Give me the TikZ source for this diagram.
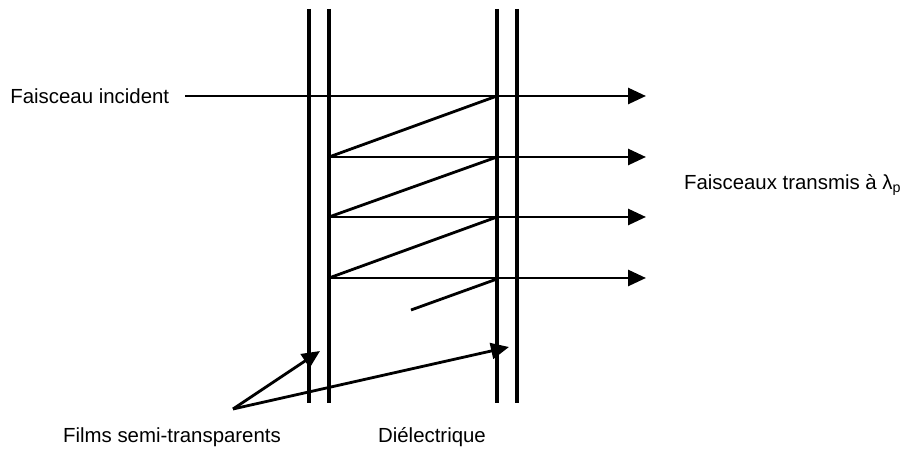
\documentclass[tikz,border=0pt]{standalone}
\usepackage{fontspec}
\setmainfont{Liberation Sans}
\usetikzlibrary{arrows.meta, positioning, calc}

\begin{document}
\begin{tikzpicture}[x=0.5pt, y=-0.5pt,
    film/.style={line width=1.6pt},
    ray/.style={line width=1.4pt},
    beam/.style={ray, -{Triangle[length=9pt, width=8pt]}},
    label/.style={font=\fontsize{10.2}{12}\selectfont, inner sep=0pt}]

    \useasboundingbox (0,0) rectangle (911,453);

    % ============================================================
    % FILMS (FOUR VERTICAL LINES)
    % ============================================================
    \coordinate (f1t) at (309,9);   \coordinate (f1b) at (309,403);
    \coordinate (f2t) at (329,9);   \coordinate (f2b) at (329,403);
    \coordinate (f3t) at (497,9);   \coordinate (f3b) at (497,403);
    \coordinate (f4t) at (517,9);   \coordinate (f4b) at (517,403);
    \draw[film] (f1t) -- (f1b);
    \draw[film] (f2t) -- (f2b);
    \draw[film] (f3t) -- (f3b);
    \draw[film] (f4t) -- (f4b);

    % ============================================================
    % INCIDENT AND TRANSMITTED BEAMS
    % ============================================================
    \node[label, anchor=west] (incident) at (10,96) {Faisceau incident};
    \coordinate (in0) at (185,96);
    \coordinate (out0) at (646,96);
    \draw[beam] (in0) -- (out0);

    \foreach \y [count=\i] in {157,217,278} {
        \coordinate (l\i) at (329,\y);
        \coordinate (o\i) at (646,\y);
        \draw[beam] (l\i) -- (o\i);
    }

    % Reflections inside the dielectric
    \coordinate (r0) at (497,96);
    \coordinate (r1) at (497,157);
    \coordinate (r2) at (497,217);
    \coordinate (r3) at (497,279);
    \coordinate (tail) at (411,310);
    \draw[ray] (l1) -- (r0);
    \draw[ray] (l2) -- (r1);
    \draw[ray] (l3) -- (r2);
    \draw[ray] (tail) -- (r3);

    \node[label, anchor=east] (transmis) at (902,185)
        {Faisceaux transmis à λ\textsubscript{p}};

    % ============================================================
    % LEGEND POINTERS
    % ============================================================
    \coordinate (src) at (233,409);
    \coordinate (tip1) at (320,351);
    \coordinate (tip2) at (509,347);
    \draw[beam] (src) -- (tip1);
    \draw[beam] (src) -- (tip2);

    \node[label] (films) at (172,437) {Films semi-transparents};
    \node[label] (diel) at (432,437) {Diélectrique};

\end{tikzpicture}
\end{document}
